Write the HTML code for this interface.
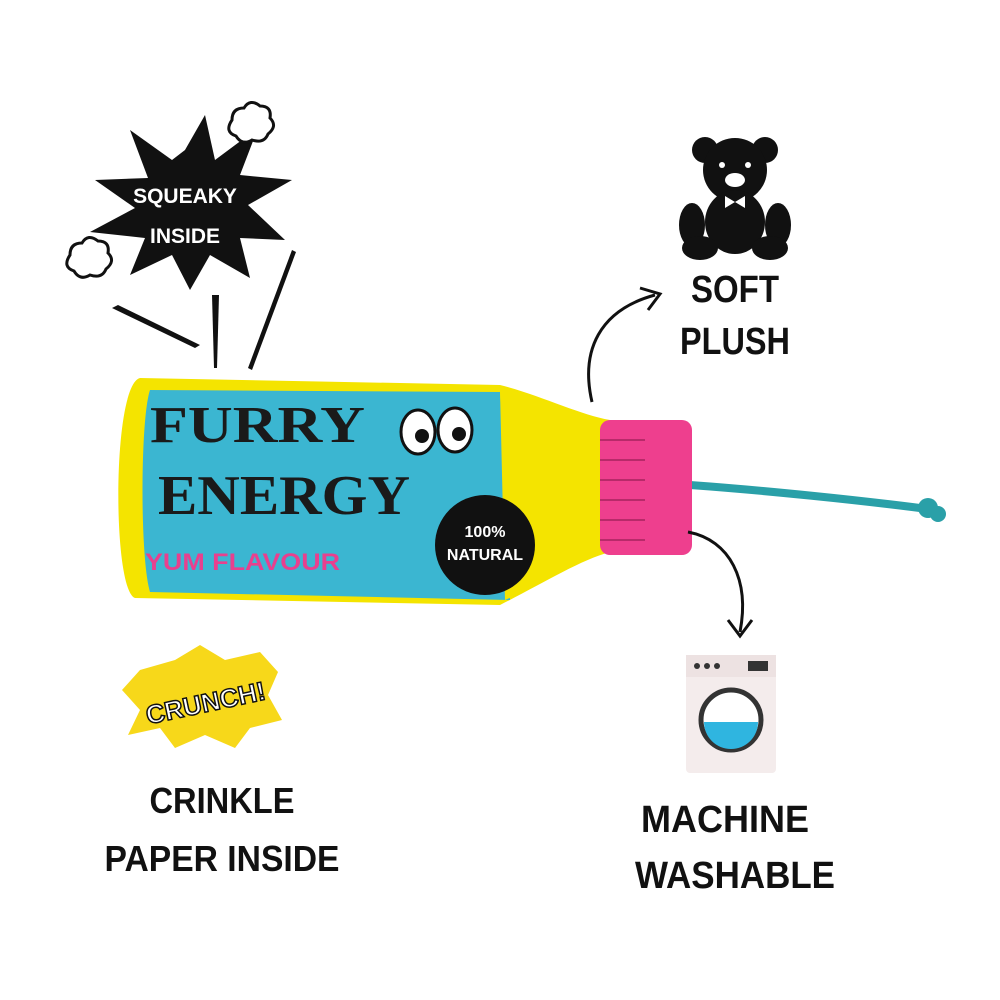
<!DOCTYPE html>
<html><head><meta charset="utf-8"><style>
html,body{margin:0;padding:0;background:#fff;}
svg{display:block}
.t{font-family:"Liberation Sans",sans-serif;font-weight:bold;}
</style></head><body>
<svg width="1000" height="1000" viewBox="0 0 1000 1000" xmlns="http://www.w3.org/2000/svg">
<polygon fill="#111" points="185,150 205,115 215,160 258,128 240,175 292,180 248,205 285,240 240,238 250,278 210,255 190,290 172,255 130,275 145,238 90,232 135,208 95,180 148,178 130,130 172,160"/>
<text x="185" y="203" text-anchor="middle" class="t" fill="#fff" font-size="21">SQUEAKY</text>
<text x="185" y="243" text-anchor="middle" class="t" fill="#fff" font-size="21">INSIDE</text>
<polygon fill="#111" points="112,308 118,305 200,345 195,348"/>
<polygon fill="#111" points="212,295 219,295 217,368 214,368"/>
<polygon fill="#111" points="292,250 296,252 252,370 248,368"/>
<g fill="#fff" stroke="#111" stroke-width="3">
<path d="M232,120 q0,-12 12,-12 q6,-10 16,-2 q12,0 10,12 q8,8 -2,16 q-4,10 -16,6 q-10,6 -16,-4 q-12,-4 -4,-16z"/>
<path d="M70,255 q0,-12 12,-12 q6,-10 16,-2 q12,0 10,12 q8,8 -2,16 q-4,10 -16,6 q-10,6 -16,-4 q-12,-4 -4,-16z"/>
</g>
<path d="M690,485 C760,490 860,500 935,510" stroke="#2aa0a8" stroke-width="8" fill="none"/>
<circle cx="928" cy="508" r="10" fill="#2aa0a8"/><circle cx="938" cy="514" r="8" fill="#2aa0a8"/>
<path d="M140,378 L500,385 C540,395 580,415 610,420 L610,552 C580,560 540,585 500,605 L135,598 C112,590 112,385 140,378Z" fill="#f4e400"/>
<path d="M150,390 L500,392 L510,600 L150,592 C140,560 140,420 150,390Z" fill="#3bb6d1"/>
<path d="M500,390 C540,400 580,418 606,424 L606,550 C580,560 540,585 505,600Z" fill="#f4e400"/>
<rect x="600" y="420" width="92" height="135" rx="10" fill="#ee3f8e"/>
<g stroke="#b82a6a" stroke-width="2">
<line x1="600" y1="440" x2="645" y2="440"/><line x1="600" y1="460" x2="645" y2="460"/><line x1="600" y1="480" x2="645" y2="480"/><line x1="600" y1="500" x2="645" y2="500"/><line x1="600" y1="520" x2="645" y2="520"/><line x1="600" y1="540" x2="645" y2="540"/>
</g>
<text x="150" y="442" font-family="Liberation Serif,serif" font-weight="bold" font-size="52" fill="#1a1a1a" textLength="215" lengthAdjust="spacingAndGlyphs">FURRY</text>
<text x="158" y="514" font-family="Liberation Serif,serif" font-weight="bold" font-size="56" fill="#1a1a1a" textLength="252" lengthAdjust="spacingAndGlyphs">ENERGY</text>
<text x="145" y="570" class="t" font-size="24" fill="#e8408e" textLength="195" lengthAdjust="spacingAndGlyphs">YUM FLAVOUR</text>
<ellipse cx="418" cy="432" rx="17" ry="22" fill="#fff" stroke="#111" stroke-width="3"/>
<ellipse cx="455" cy="430" rx="17" ry="22" fill="#fff" stroke="#111" stroke-width="3"/>
<circle cx="422" cy="436" r="7" fill="#111"/><circle cx="459" cy="434" r="7" fill="#111"/>
<circle cx="485" cy="545" r="50" fill="#111"/>
<text x="485" y="537" text-anchor="middle" class="t" fill="#fff" font-size="16">100%</text>
<text x="485" y="560" text-anchor="middle" class="t" fill="#fff" font-size="16">NATURAL</text>
<path d="M592,402 C580,350 600,310 655,295" stroke="#111" stroke-width="3" fill="none"/>
<path d="M640,288 L660,294 L648,310" stroke="#111" stroke-width="3" fill="none"/>
<path d="M688,532 C730,540 750,580 740,632" stroke="#111" stroke-width="3" fill="none"/>
<path d="M728,620 L740,636 L752,620" stroke="#111" stroke-width="3" fill="none"/>
<g fill="#111">
<circle cx="705" cy="150" r="13"/><circle cx="765" cy="150" r="13"/>
<circle cx="735" cy="170" r="32"/>
<ellipse cx="735" cy="222" rx="30" ry="32"/>
<ellipse cx="692" cy="225" rx="13" ry="22"/><ellipse cx="778" cy="225" rx="13" ry="22"/>
<ellipse cx="700" cy="248" rx="18" ry="12"/><ellipse cx="770" cy="248" rx="18" ry="12"/>
</g>
<ellipse cx="735" cy="180" rx="10" ry="7" fill="#fff"/>
<circle cx="722" cy="165" r="3" fill="#fff"/><circle cx="748" cy="165" r="3" fill="#fff"/>
<path d="M725,196 L735,202 L745,196 L745,208 L735,202 L725,208Z" fill="#fff"/>
<text x="735" y="302" text-anchor="middle" class="t" font-size="38" fill="#111" textLength="88" lengthAdjust="spacingAndGlyphs">SOFT</text>
<text x="735" y="354" text-anchor="middle" class="t" font-size="38" fill="#111" textLength="110" lengthAdjust="spacingAndGlyphs">PLUSH</text>
<rect x="686" y="655" width="90" height="118" rx="4" fill="#f4ecec"/>
<rect x="686" y="655" width="90" height="22" fill="#ede2e2"/>
<circle cx="697" cy="666" r="3" fill="#333"/><circle cx="707" cy="666" r="3" fill="#333"/><circle cx="717" cy="666" r="3" fill="#333"/>
<rect x="748" y="661" width="20" height="10" fill="#333"/>
<circle cx="731" cy="720" r="30" fill="#fff" stroke="#333" stroke-width="5"/>
<path d="M704,722 A27,27 0 0 0 758,722 Z" fill="#2fb5e0"/>
<text x="725" y="832" text-anchor="middle" class="t" font-size="38" fill="#111" textLength="168" lengthAdjust="spacingAndGlyphs">MACHINE</text>
<text x="735" y="888" text-anchor="middle" class="t" font-size="38" fill="#111" textLength="200" lengthAdjust="spacingAndGlyphs">WASHABLE</text>
<polygon fill="#f7d81a" points="140,670 175,660 200,645 225,660 260,652 278,672 268,695 282,720 250,728 235,748 205,735 175,748 160,728 128,735 140,710 122,690"/>
<text x="205" y="712" text-anchor="middle" class="t" font-size="26" fill="#fff" stroke="#111" stroke-width="1.5" transform="rotate(-12 205 700)">CRUNCH!</text>
<text x="222" y="813" text-anchor="middle" class="t" font-size="36" fill="#111" textLength="145" lengthAdjust="spacingAndGlyphs">CRINKLE</text>
<text x="222" y="871" text-anchor="middle" class="t" font-size="36" fill="#111" textLength="235" lengthAdjust="spacingAndGlyphs">PAPER INSIDE</text>
</svg>
</body></html>
